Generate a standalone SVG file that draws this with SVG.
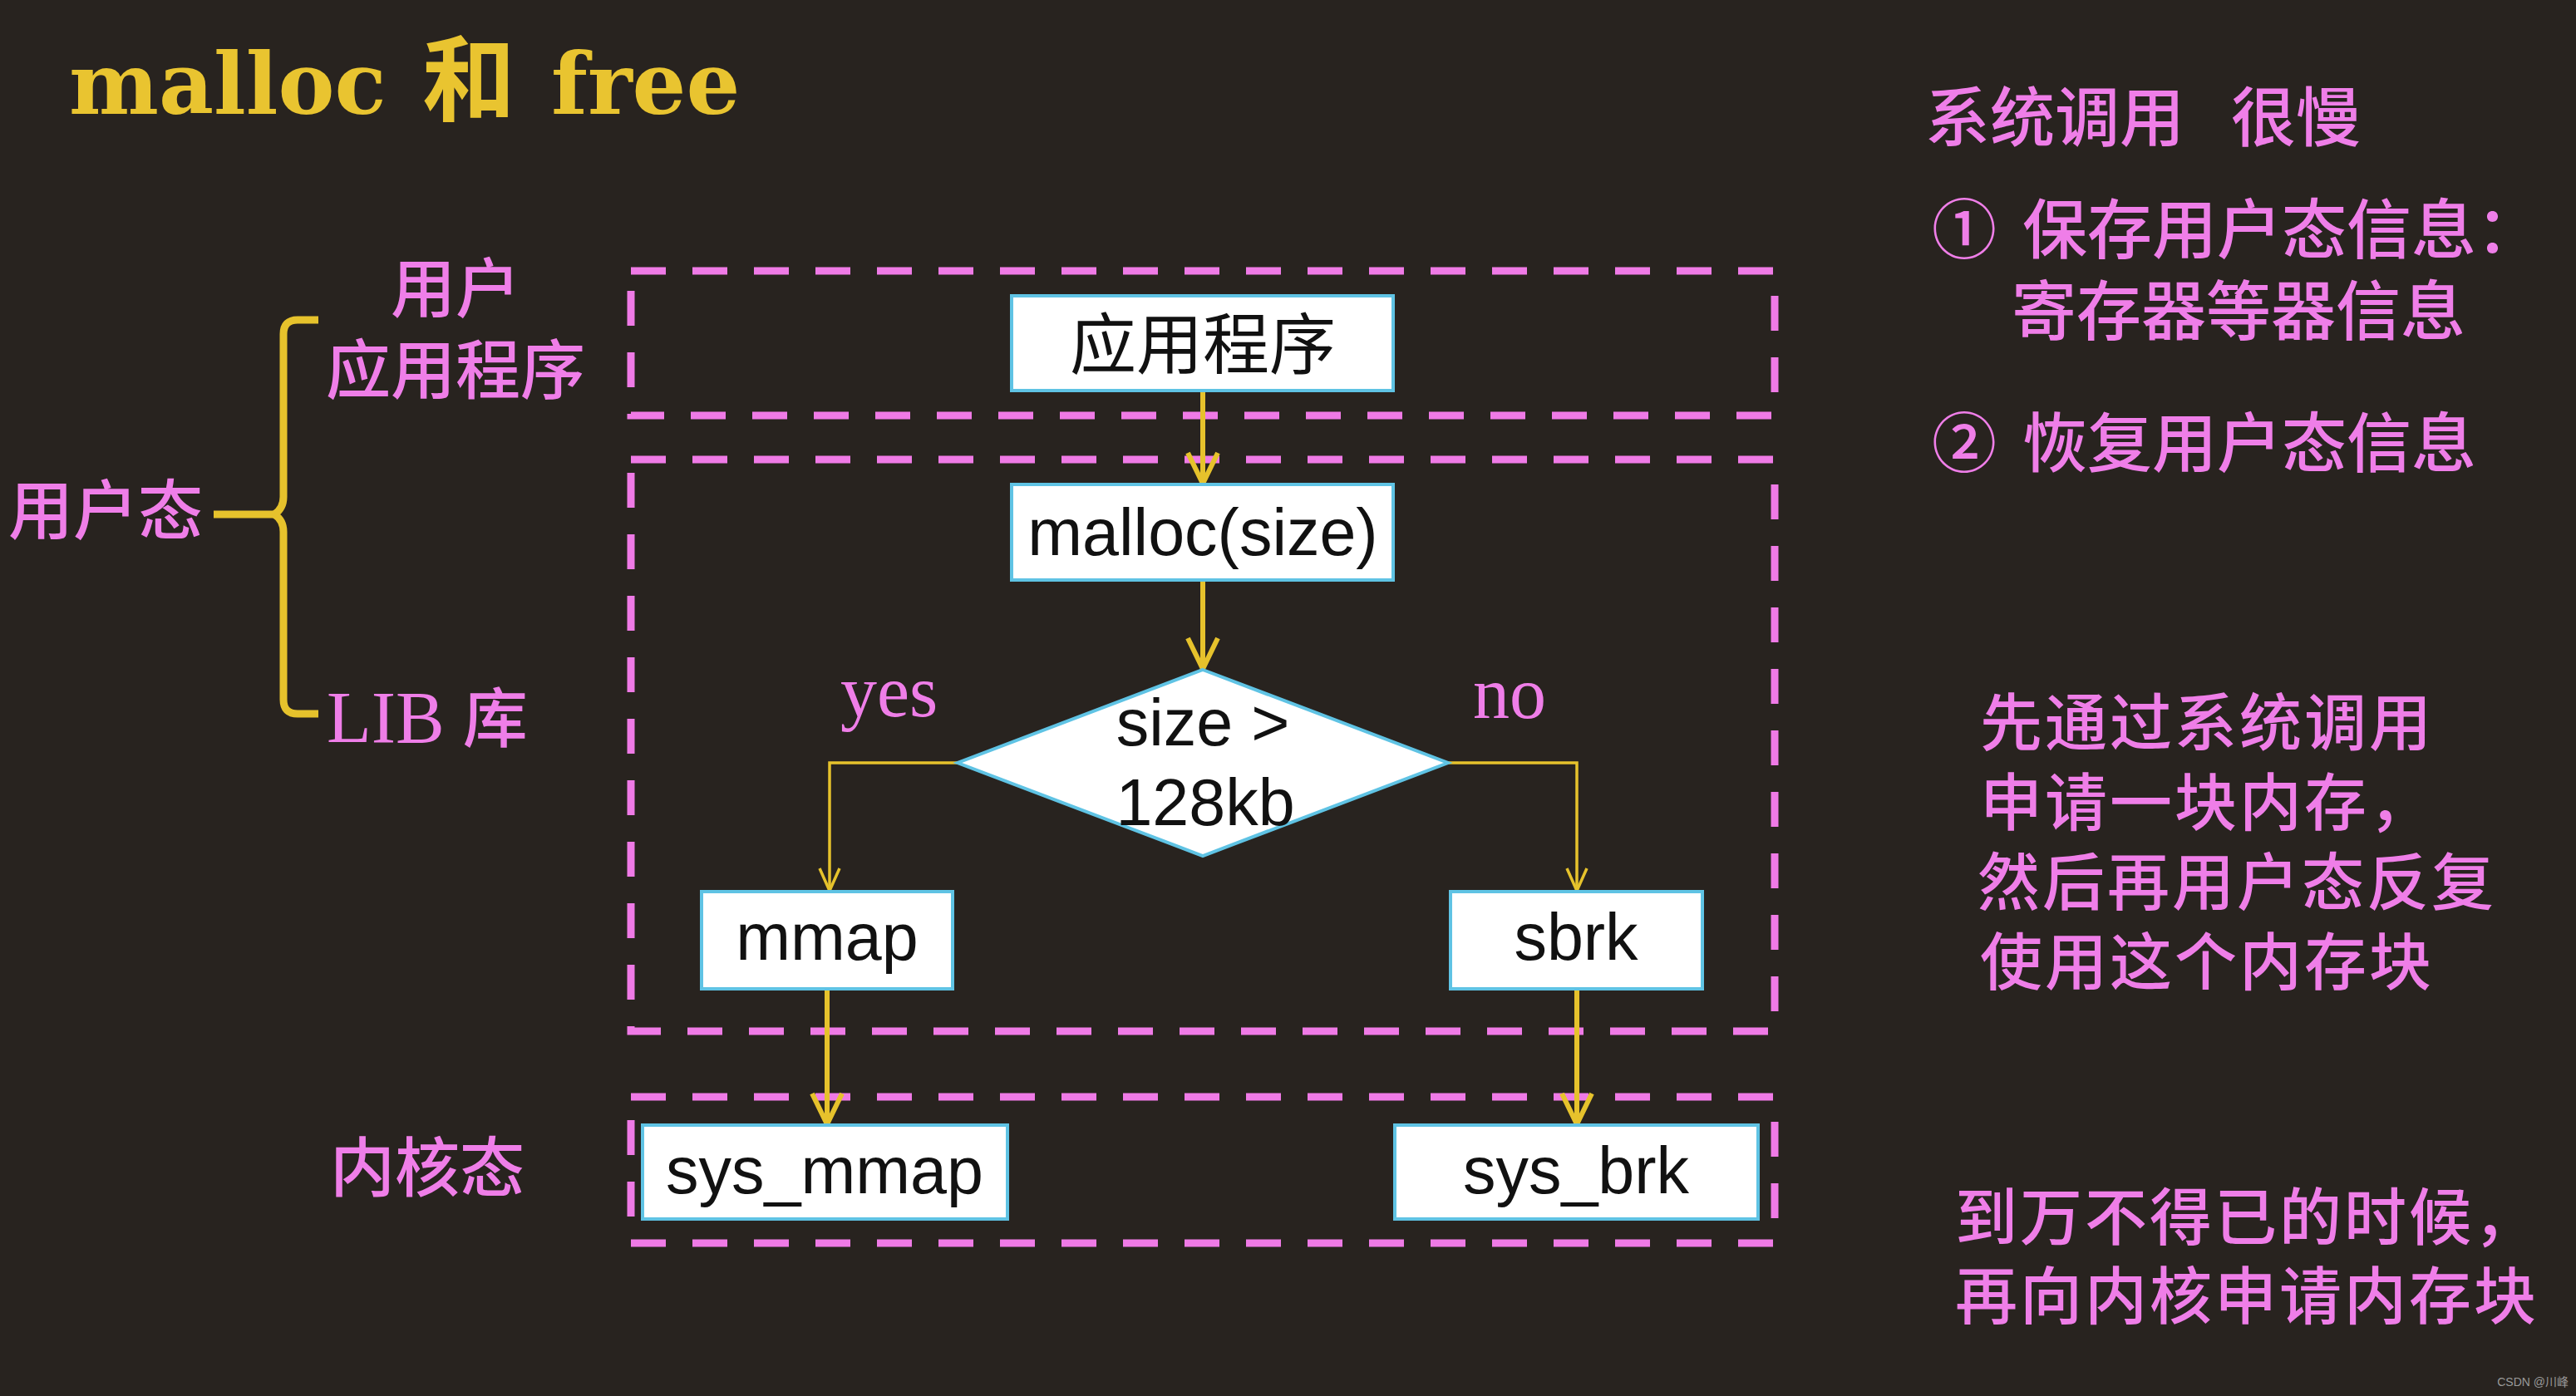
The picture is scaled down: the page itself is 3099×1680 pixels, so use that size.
<svg xmlns="http://www.w3.org/2000/svg" width="3099" height="1680" viewBox="0 0 3099 1680">
<defs>
<style>
.bg{fill:#28231f}
.zone{fill:none;stroke:#ef7ae6;stroke-width:9;stroke-dasharray:42 32}
.box{fill:#ffffff;stroke:#5fc3e4;stroke-width:4}
.btxt{font-family:"Liberation Sans",Arial,sans-serif;font-size:79px;fill:#111;text-anchor:middle}
.bcjk{font-family:"Noto Sans CJK SC",sans-serif;font-size:80px;fill:#111;text-anchor:middle}
.pink{font-family:"Noto Sans CJK SC",sans-serif;fill:#ef7ee8;font-size:78px;font-weight:500}
.para{font-size:75px;letter-spacing:3px}
.pserif{font-family:"Liberation Serif","Times New Roman",serif;fill:#ef7ee8;font-size:88px}
.thick{fill:none;stroke:#e6c22c;stroke-width:6}
.thin{fill:none;stroke:#e6c22c;stroke-width:3.5}
</style>
<marker id="ahBig" markerUnits="userSpaceOnUse" viewBox="0 0 44 42" refX="41" refY="21" markerWidth="44" markerHeight="42" orient="auto">
<path d="M4,3 L41,21 L4,39" fill="none" stroke="#e6c22c" stroke-width="6" stroke-linejoin="miter"/>
</marker>
<marker id="ahSmall" markerUnits="userSpaceOnUse" viewBox="0 0 32 30" refX="30" refY="15" markerWidth="32" markerHeight="30" orient="auto">
<path d="M3,3 L30,15 L3,27" fill="none" stroke="#e6c22c" stroke-width="3.5"/>
</marker>
</defs>
<rect class="bg" x="0" y="0" width="3099" height="1680"/>

<g id="title">
<text y="137" font-family="'DejaVu Serif','Liberation Serif','Noto Sans CJK SC',serif" font-weight="bold" font-size="102" fill="#e9c430"><tspan x="83">malloc</tspan><tspan x="508" font-family="'Noto Sans CJK SC',sans-serif" font-size="112">和</tspan><tspan x="663">free</tspan></text>
</g>

<g id="zones">
<rect class="zone" x="759" y="326" width="1376" height="174"/>
<rect class="zone" x="759" y="553" width="1376" height="688"/>
<rect class="zone" x="759" y="1320" width="1376" height="176"/>
</g>

<g id="left-labels">
<text class="pink" x="548" y="376" text-anchor="middle" font-size="76">用户</text>
<text class="pink" x="548" y="474" text-anchor="middle">应用程序</text>
<text class="pink" x="10" y="643">用户态</text>
<text class="pserif" x="393" y="893">LIB <tspan font-family="'Noto Sans CJK SC',sans-serif" font-size="78" font-weight="500">库</tspan></text>
<text class="pink" x="397" y="1434">内核态</text>
<path d="M383,385 L358,385 Q341,385 341,402 L341,598 Q341,612 330,619 Q341,626 341,640 L341,842 Q341,859 358,859 L383,859" fill="none" stroke="#e6c22c" stroke-width="9"/>
<line x1="257" y1="619" x2="332" y2="619" stroke="#e6c22c" stroke-width="9"/>
</g>

<g id="connectors">
<line class="thick" x1="1447" y1="470" x2="1447" y2="582" marker-end="url(#ahBig)"/>
<line class="thick" x1="1447" y1="698" x2="1447" y2="805" marker-end="url(#ahBig)"/>
<polyline class="thin" points="1152,918 998,918 998,1072" marker-end="url(#ahSmall)"/>
<polyline class="thin" points="1742,918 1897,918 1897,1072" marker-end="url(#ahSmall)"/>
<line class="thick" x1="995" y1="1190" x2="995" y2="1353" marker-end="url(#ahBig)"/>
<line class="thick" x1="1897" y1="1190" x2="1897" y2="1353" marker-end="url(#ahBig)"/>
<text class="pserif" x="1011" y="862">yes</text>
<text class="pserif" x="1772" y="864">no</text>
</g>

<g id="node-app">
<rect class="box" x="1217" y="356" width="459" height="114"/>
<text class="bcjk" x="1447" y="443">应用程序</text>
</g>
<g id="node-malloc">
<rect class="box" x="1217" y="583" width="459" height="115"/>
<text class="btxt" x="1447" y="668">malloc(size)</text>
</g>
<g id="node-decision">
<polygon class="box" points="1447,806 1742,918 1447,1030 1152,918"/>
<text class="btxt" x="1447" y="897">size &gt;</text>
<text class="btxt" x="1450" y="993">128kb</text>
</g>
<g id="node-mmap">
<rect class="box" x="844" y="1073" width="302" height="117"/>
<text class="btxt" x="995" y="1155">mmap</text>
</g>
<g id="node-sbrk">
<rect class="box" x="1745" y="1073" width="303" height="117"/>
<text class="btxt" x="1896" y="1155">sbrk</text>
</g>
<g id="node-sys_mmap">
<rect class="box" x="773" y="1354" width="439" height="113"/>
<text class="btxt" x="992" y="1436">sys_mmap</text>
</g>
<g id="node-sys_brk">
<rect class="box" x="1678" y="1354" width="437" height="113"/>
<text class="btxt" x="1896" y="1436">sys_brk</text>
</g>

<g id="notes">
<text class="pink" y="170"><tspan x="2316">系统调用</tspan><tspan x="2684">很慢</tspan></text>
<text class="pink" y="305"><tspan x="2324">①</tspan><tspan x="2433">保存用户态信息：</tspan></text>
<text class="pink" x="2420" y="403">寄存器等器信息</text>
<text class="pink" y="562"><tspan x="2324">②</tspan><tspan x="2433">恢复用户态信息</tspan></text>
<text class="pink para" x="2382" y="897">先通过系统调用</text>
<text class="pink para" x="2382" y="993">申请一块内存，</text>
<text class="pink para" x="2379" y="1089">然后再用户态反复</text>
<text class="pink para" x="2382" y="1185">使用这个内存块</text>
<text class="pink para" x="2352" y="1492">到万不得已的时候，</text>
<text class="pink para" x="2352" y="1587">再向内核申请内存块</text>
<text x="3090" y="1668" text-anchor="end" font-family="'Liberation Sans','Noto Sans CJK SC',sans-serif" font-size="14" fill="#9a9a9a">CSDN @川峰</text>
</g>
</svg>
